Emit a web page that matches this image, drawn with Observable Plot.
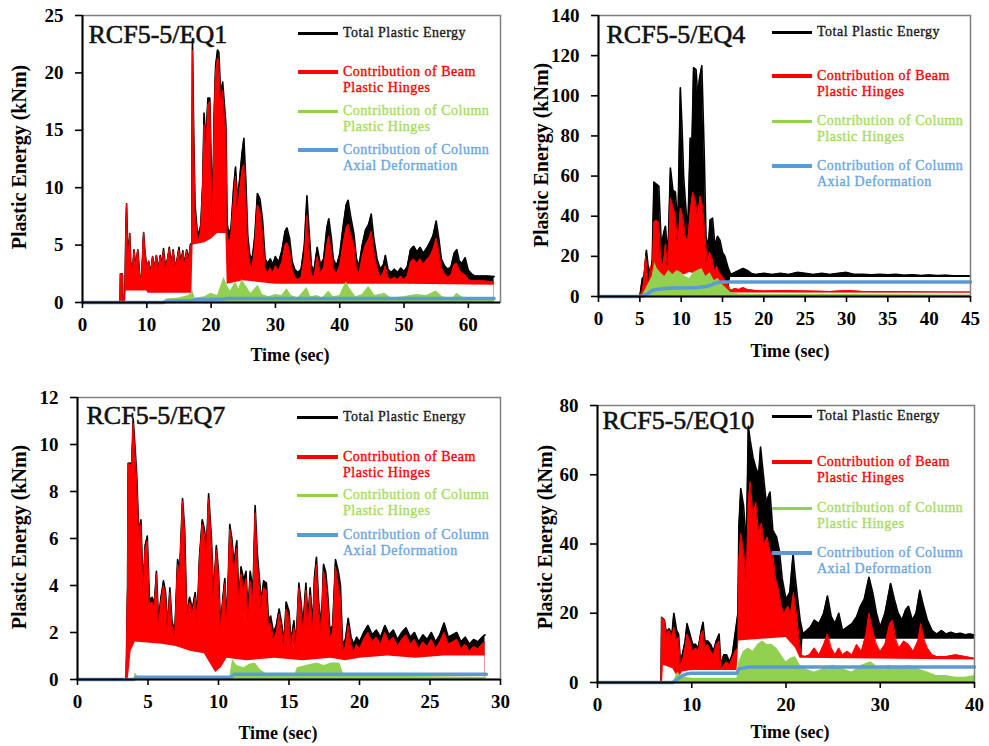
<!DOCTYPE html>
<html><head><meta charset="utf-8">
<script src="https://cdn.jsdelivr.net/npm/d3@7"></script>
<script src="https://cdn.jsdelivr.net/npm/@observablehq/plot@0.6"></script>
<style>
body{margin:0;background:#fff;}
#wrap{position:relative;width:989px;height:746px;overflow:hidden;font-family:"Liberation Serif","Times New Roman",serif;background:#fff;}
.panel{position:absolute;}
.lbl{position:absolute;font-weight:bold;white-space:nowrap;color:#000;}
.leg-line{position:absolute;}
.leg-text{position:absolute;font-size:14px;line-height:16px;letter-spacing:0.5px;white-space:nowrap;-webkit-text-stroke:0.35px currentColor;}
</style></head><body><div id="wrap"></div>
<script>
// ---------- shared text ----------
const legendLabels = [["Total Plastic Energy"], ["Contribution of Beam", "Plastic Hinges"], ["Contribution of Column", "Plastic Hinges"], ["Contribution of Column", "Axial Deformation"]];
const yLabel = "Plastic Energy (kNm)";
const xLabel = "Time (sec)";
const titles = ["RCF5-5/EQ1", "RCF5-5/EQ4", "RCF5-5/EQ7", "RCF5-5/EQ10"];

// ---------- EQ1 ----------
const eq1XTicks = [0, 10, 20, 30, 40, 50, 60];
const eq1YTicks = [0, 5, 10, 15, 20, 25];
const eq1Total = [[0,0],[5.85,0],[5.9,2.5],[6.2,2.5],[6.3,0],[6.6,0],[6.7,5],[6.85,8.6],[7.0,5.5],[7.2,4.2],[7.35,6.0],[7.5,3.5],[7.8,2.8],[8.0,4.6],[8.3,3.2],[8.6,4.6],[8.9,2.4],[9.2,2.2],[9.5,6.1],[9.7,4.5],[10.0,3.0],[10.3,3.6],[10.6,2.5],[10.9,4.0],[11.2,3.0],[11.5,4.1],[11.8,2.8],[12.1,4.1],[12.4,3.3],[12.6,4.7],[12.9,3.1],[13.2,3.7],[13.5,4.8],[13.8,3.3],[14.1,4.6],[14.4,3.1],[14.7,3.7],[15.0,4.8],[15.3,3.4],[15.6,4.5],[15.9,3.3],[16.2,4.6],[16.5,3.7],[16.8,5.1],[17.0,4.1],[17.1,23.0],[17.3,14.5],[17.5,8.5],[17.8,6.5],[18.1,5.8],[18.4,6.8],[18.7,10.5],[18.9,16.5],[19.2,14],[19.5,17.8],[19.8,17.8],[20.0,12.5],[20.2,7.5],[20.5,17],[20.7,20.6],[21.0,22],[21.2,21.8],[21.5,18],[21.8,19.2],[22.1,17],[22.3,15.5],[22.5,6.8],[22.8,6],[23.1,6.5],[23.5,10],[23.8,11.8],[24.1,9],[24.4,10.5],[24.8,13],[25.1,14.3],[25.4,10.6],[25.7,5.8],[26.0,4.2],[26.4,3.8],[26.8,5.8],[27.2,9.5],[27.6,9],[28.0,7.2],[28.4,3.8],[28.8,3.4],[29.2,3.8],[29.6,3.3],[30.0,4],[30.5,3.5],[31.0,4.5],[31.5,6.2],[31.8,6.5],[32.2,5.6],[32.6,3.6],[33.0,2.9],[33.5,2.6],[34.0,2.9],[34.5,5],[34.9,9.3],[35.2,6.5],[35.6,3.2],[36.0,2.8],[36.5,4.8],[37.0,3.3],[37.5,3.8],[38.0,6.5],[38.3,7.3],[38.7,5.6],[39.0,3.8],[39.5,3.2],[40.0,4.2],[40.5,6.5],[41.0,8.5],[41.3,8.9],[41.7,7.5],[42.2,6],[42.6,3.8],[43.0,3.2],[43.5,5],[44.0,6.3],[44.5,6.8],[44.9,7.7],[45.3,5.6],[45.8,3.8],[46.3,2.9],[46.8,3.3],[47.1,4.1],[47.5,2.9],[48.0,2.6],[48.5,2.9],[49.0,2.6],[49.5,3],[50.0,2.7],[50.5,3.1],[51.0,4.6],[51.5,4.9],[52.0,4.4],[52.5,4.8],[53.0,4.3],[53.5,4.7],[54.0,5.2],[54.5,5.8],[55.0,7.1],[55.4,5.6],[55.8,3.8],[56.3,3.2],[56.8,2.9],[57.3,3.1],[57.8,4.3],[58.2,4.6],[58.6,3.6],[59.0,3.4],[59.5,3.9],[60.0,2.8],[60.5,2.5],[61,2.3],[62,2.3],[63,2.3],[64,2.25]];
const eq1Beam = [[0,0],[5.85,0],[5.9,2.5],[6.2,2.5],[6.3,0],[6.6,0],[6.7,5],[6.85,8.6],[7.0,5.5],[7.2,4.2],[7.35,6.0],[7.5,3.5],[7.8,2.8],[8.0,4.5],[8.3,3.2],[8.6,4.6],[8.9,2.4],[9.2,2.2],[9.5,6.1],[9.7,4.5],[10.0,3.0],[10.3,3.6],[10.6,2.5],[10.9,4.0],[11.2,3.0],[11.5,4.1],[11.8,2.8],[12.1,4.0],[12.4,3.2],[12.6,4.5],[12.9,3.0],[13.2,3.6],[13.5,4.7],[13.8,3.2],[14.1,4.5],[14.4,3.0],[14.7,3.6],[15.0,4.6],[15.3,3.3],[15.6,4.4],[15.9,3.2],[16.2,4.5],[16.5,3.6],[16.8,5.0],[17.0,4.0],[17.1,22.0],[17.3,14],[17.5,8],[17.8,6],[18.1,5.4],[18.4,6.3],[18.7,10],[18.9,15.5],[19.2,13],[19.5,17.2],[19.8,17.5],[20.0,12],[20.2,7],[20.5,16],[20.7,20],[21.0,21.3],[21.2,21],[21.5,17],[21.8,18.5],[22.1,16],[22.3,15],[22.5,6],[22.8,5],[23.1,6],[23.5,9],[23.8,11],[24.1,8],[24.4,9.5],[24.8,11.5],[25.1,12],[25.4,9],[25.7,5],[26.0,3.5],[26.4,3],[26.8,5],[27.2,8.5],[27.6,8],[28.0,6],[28.4,3],[28.8,2.5],[29.2,3],[29.6,2.6],[30.0,3.2],[30.5,2.8],[31.0,3.5],[31.5,5],[31.8,5.2],[32.2,4.5],[32.6,3],[33.0,2.2],[33.5,2],[34.0,2.2],[34.5,4],[34.9,7.6],[35.2,5],[35.6,2.5],[36.0,2.2],[36.5,4],[37.0,2.6],[37.5,3],[38.0,5],[38.3,5.8],[38.7,4.5],[39.0,3],[39.5,2.5],[40.0,3.2],[40.5,5],[41.0,6.5],[41.3,6.8],[41.7,6],[42.2,5],[42.6,3],[43.0,2.5],[43.5,4],[44.0,5],[44.5,5.5],[44.9,6.2],[45.3,4.5],[45.8,3],[46.3,2.2],[46.8,2.6],[47.1,3.2],[47.5,2.2],[48.0,2],[48.5,2.2],[49.0,2],[49.5,2.3],[50.0,2],[50.5,2.3],[51.0,3.5],[51.5,3.8],[52.0,3.4],[52.5,3.8],[53.0,3.3],[53.5,3.7],[54.0,4],[54.5,4.6],[55.0,5.6],[55.4,4.5],[55.8,3],[56.3,2.5],[56.8,2.2],[57.3,2.4],[57.8,3.3],[58.2,3.4],[58.6,2.8],[59.0,2.6],[59.5,2.4],[60.0,2],[60.5,1.9],[61,1.9],[62,1.9],[63,1.85],[64,1.8]];
const eq1BeamBase = [[0,0],[6.7,0],[6.8,1.0],[10,1.0],[10.2,0.8],[17.0,0.8],[17.2,5.0],[19,5.2],[20,5.5],[21,6.0],[22.3,6.0],[22.5,1.6],[25,1.9],[30,1.6],[40,1.6],[50,1.6],[64,1.5]];
const eq1Column = [[0,0],[12.8,0],[13,0.3],[15,0.4],[16.5,0.6],[17.2,1.0],[17.5,0.4],[19,0.5],[20,0.8],[21,0.6],[22,2.2],[22.5,1.5],[23,1.0],[23.8,1.8],[24.3,1.2],[24.8,2.0],[25.5,1.4],[26.2,0.8],[27.3,1.5],[28,0.7],[29,0.5],[30,0.7],[31,0.6],[31.8,1.2],[32.5,0.6],[33.5,0.4],[34.9,1.3],[35.5,0.5],[36.5,0.6],[37.3,0.4],[38.3,1.0],[39,0.5],[40,0.6],[41,1.8],[41.6,1.2],[42.5,0.5],[43.5,0.7],[44.5,1.4],[45.5,0.6],[47,0.8],[48,0.4],[50,0.5],[51,0.6],[52,0.7],[53.5,0.6],[55,1.0],[56,0.5],[57.5,0.3],[58.2,0.8],[59,0.5],[60,0.3],[62,0.3],[64,0.3]];
const eq1Axial = [[0,0],[12.5,0],[13,0.1],[17,0.15],[17.5,0.25],[22,0.3],[22.5,0.35],[64,0.35]];

// ---------- EQ4 ----------
const eq4XTicks = [0, 5, 10, 15, 20, 25, 30, 35, 40, 45];
const eq4YTicks = [0, 20, 40, 60, 80, 100, 120, 140];
const eq4Total = [[0,0],[5.0,0],[5.3,9],[5.5,10],[5.8,23],[6.0,15],[6.3,12],[6.5,18],[6.7,57],[7.0,56],[7.3,55],[7.6,25],[7.9,32],[8.1,35],[8.4,20],[8.7,64],[9.0,53],[9.3,52],[9.6,35],[9.9,104],[10.1,85],[10.3,60],[10.5,48],[10.8,32],[11.1,79],[11.3,75],[11.5,114],[11.8,113],[12.0,100],[12.2,108],[12.5,115],[12.8,70],[13.0,30],[13.3,25],[13.5,38],[13.8,39],[14.1,25],[14.4,30],[14.7,28],[15.0,22],[15.3,20],[15.7,14],[16.0,11],[16.5,12],[17.0,13],[17.5,14],[18,13],[18.5,11.5],[19,11],[20,11.5],[21,11],[22,11.5],[23,11],[24,12],[25,11.5],[26,11],[27,11.5],[28,11],[29,11.5],[30,12],[31,11],[32,11],[33,10.8],[34,11],[35,10.8],[36,11],[37,10.6],[38,10.8],[39,10.5],[40,10.7],[41,10.4],[42,10.6],[43,10.3],[44,10.3],[45,10.2]];
const eq4TotalBase = [[0,0],[15.6,0],[16.0,9.5],[45,9.5]];
const eq4Beam = [[0,0],[5.0,0],[5.3,3],[5.5,8],[5.7,20],[5.9,12],[6.1,5],[6.3,15],[6.5,10],[6.7,37],[7.0,38],[7.3,37],[7.5,20],[7.8,15],[8.1,26],[8.4,12],[8.7,49],[9.0,45],[9.3,40],[9.6,25],[9.9,44],[10.2,40],[10.5,30],[10.8,28],[11.1,42],[11.4,52],[11.7,48],[12.0,40],[12.3,50],[12.6,45],[12.9,30],[13.2,15],[13.4,22],[13.7,20],[14.0,13],[14.3,15],[14.6,12],[15.0,10],[15.5,7],[16,3],[16.5,4],[17,3.5],[17.5,4.5],[18,3.5],[19,3],[20,2.8],[22,3],[25,2.8],[28,2.5],[30,3],[32,2.5],[35,2.5],[40,2.3],[45,2.2]];
const eq4BeamBase = [[0,0],[6.5,0],[7,8],[9,10],[10.5,11],[11,12],[12,11],[13,8],[14,6],[15,3],[16,1.8],[45,1.6]];
const eq4Column = [[0,0],[5.2,0],[5.5,2],[6,6],[6.5,10],[6.8,17],[7.1,14],[7.5,12],[8,10],[8.5,13],[9,11],[9.5,13],[10,12],[10.5,10],[11,9],[11.5,12],[12,13],[12.5,14],[13,10],[13.5,12],[14,8],[14.5,9],[15,6],[15.5,4],[16,2],[17,1.2],[20,1],[30,1],[45,0.8]];
const eq4Axial = [[0,0],[5.0,0],[5.5,0.5],[6,1.5],[6.5,3],[7,3.5],[8,4],[9,4.2],[10,4.2],[11,4.3],[12,4.5],[13,5],[13.5,5.5],[14,6.5],[14.5,7],[15,7.2],[45,7.2]];

// ---------- EQ7 ----------
const eq7XTicks = [0, 5, 10, 15, 20, 25, 30];
const eq7YTicks = [0, 2, 4, 6, 8, 10, 12];
const eq7Total = [[0,0],[3.45,0],[3.55,4],[3.6,9.2],[3.85,9.2],[3.95,11.1],[4.1,9.7],[4.2,8.7],[4.35,6.2],[4.5,6.8],[4.65,3.8],[4.8,5.7],[4.95,6.1],[5.1,3.4],[5.3,3.5],[5.45,3.2],[5.6,4.6],[5.75,2.4],[5.9,3.4],[6.1,4.2],[6.25,3.7],[6.4,2.2],[6.55,3.9],[6.7,2.5],[6.9,2.0],[7.1,5.1],[7.25,4.7],[7.45,7.7],[7.6,6.4],[7.75,2.7],[7.95,3.5],[8.15,3.0],[8.35,3.7],[8.5,2.7],[8.65,5.2],[8.85,6.8],[9.0,6.4],[9.15,5.6],[9.3,7.9],[9.5,6.0],[9.65,3.6],[9.85,5.7],[10.0,4.6],[10.15,2.2],[10.3,3.4],[10.45,4.3],[10.6,2.4],[10.8,6.6],[10.95,6.0],[11.1,4.9],[11.3,5.9],[11.45,3.3],[11.6,4.8],[11.8,4.2],[11.95,4.6],[12.1,2.8],[12.25,4.6],[12.45,3.8],[12.6,7.4],[12.75,5.4],[12.9,4.3],[13.05,3.3],[13.2,4.2],[13.4,4.1],[13.55,2.5],[13.7,2.7],[13.9,2.0],[14.1,2.3],[14.3,3.0],[14.5,2.3],[14.65,1.6],[14.8,3.3],[15.0,2.9],[15.15,1.6],[15.35,2.5],[15.5,1.5],[15.7,4.1],[15.85,3.3],[16.0,2.3],[16.2,4.1],[16.35,2.5],[16.5,3.9],[16.7,2.3],[16.8,4.3],[16.95,5.2],[17.1,3.3],[17.3,2.3],[17.45,4.9],[17.6,4.6],[17.75,3.6],[17.9,2.1],[18.1,2.3],[18.3,5.1],[18.5,4.6],[18.65,4.0],[18.8,1.5],[19.0,1.7],[19.2,2.6],[19.4,1.8],[19.6,1.5],[19.8,1.8],[20.0,1.6],[20.3,2.0],[20.6,2.3],[20.9,1.9],[21.2,2.1],[21.5,1.8],[21.8,2.3],[22.1,1.9],[22.4,2.1],[22.7,1.7],[23.0,2.0],[23.3,2.2],[23.6,1.8],[23.9,2.0],[24.2,1.6],[24.5,1.9],[24.8,1.7],[25.1,2.0],[25.4,1.6],[25.7,1.9],[26.0,2.4],[26.3,1.8],[26.6,1.9],[26.9,2.0],[27.2,1.6],[27.5,1.8],[27.8,1.5],[28.1,1.7],[28.4,1.6],[28.7,1.8],[28.9,1.9]];
const eq7Beam = [[0,0],[3.45,0],[3.55,4],[3.6,9.2],[3.85,9.1],[3.95,10.9],[4.1,9.5],[4.2,8.5],[4.35,6],[4.5,6.6],[4.65,3.6],[4.8,5.5],[4.95,5.9],[5.1,3.2],[5.3,3.3],[5.45,3.0],[5.6,4.5],[5.75,2.2],[5.9,3.2],[6.1,4.0],[6.25,3.5],[6.4,2.0],[6.55,3.7],[6.7,2.3],[6.9,1.8],[7.1,4.9],[7.25,4.5],[7.45,7.6],[7.6,6.2],[7.75,2.5],[7.95,3.3],[8.15,2.8],[8.35,3.5],[8.5,2.5],[8.65,5.0],[8.85,6.6],[9.0,6.2],[9.15,5.4],[9.3,7.7],[9.5,5.8],[9.65,3.4],[9.85,5.5],[10.0,4.4],[10.15,2.0],[10.3,3.2],[10.45,4.1],[10.6,2.2],[10.8,6.4],[10.95,5.8],[11.1,4.6],[11.3,5.6],[11.45,3.0],[11.6,4.5],[11.8,3.8],[11.95,4.3],[12.1,2.4],[12.25,4.2],[12.45,3.4],[12.6,7.1],[12.75,5.0],[12.9,4.0],[13.05,3.0],[13.2,3.9],[13.4,3.8],[13.55,2.2],[13.7,2.4],[13.9,1.7],[14.1,2.0],[14.3,2.8],[14.5,2.0],[14.65,1.3],[14.8,3.0],[15.0,2.6],[15.15,1.3],[15.35,2.2],[15.5,1.2],[15.7,3.9],[15.85,3.0],[16.0,2.0],[16.2,3.8],[16.35,2.2],[16.5,3.6],[16.7,2.0],[16.8,4.0],[16.95,4.9],[17.1,3.0],[17.3,2.0],[17.45,4.6],[17.6,4.2],[17.75,3.3],[17.9,1.8],[18.1,2.0],[18.3,4.8],[18.5,4.0],[18.65,3.5],[18.8,1.2],[19.0,1.4],[19.2,2.3],[19.4,1.5],[19.6,1.2],[19.8,1.5],[20.0,1.3],[20.3,1.7],[20.6,2.0],[20.9,1.6],[21.2,1.8],[21.5,1.5],[21.8,2.0],[22.1,1.6],[22.4,1.8],[22.7,1.4],[23.0,1.7],[23.3,1.9],[23.6,1.5],[23.9,1.7],[24.2,1.3],[24.5,1.6],[24.8,1.4],[25.1,1.7],[25.4,1.3],[25.7,1.6],[26.0,2.0],[26.3,1.5],[26.6,1.6],[26.9,1.7],[27.2,1.3],[27.5,1.5],[27.8,1.2],[28.1,1.4],[28.4,1.3],[28.7,1.5],[28.9,1.6]];
const eq7BeamBase = [[0,0],[3.6,0],[3.8,1.2],[4.1,1.6],[6,1.5],[7,1.4],[8,1.2],[9,1.1],[9.5,0.6],[9.8,0.3],[10.2,0.5],[10.6,0.9],[12,0.8],[14,0.9],[16,0.8],[18,0.9],[19,0.8],[20,0.9],[22,1.0],[24,0.9],[26,1.0],[28.9,1.0]];
const eq7Column = [[0,0],[4.0,0],[4.1,0.3],[4.3,0.1],[10.8,0.1],[11.0,0.85],[11.3,0.6],[11.8,0.5],[12.2,0.65],[12.6,0.7],[13.0,0.4],[13.5,0.2],[15.4,0.2],[15.6,0.5],[16.2,0.6],[17.0,0.7],[17.5,0.6],[18.0,0.7],[18.6,0.7],[18.9,0.2],[20,0.15],[29,0.1]];
const eq7Axial = [[0,0],[4.0,0],[4.2,0.1],[10.9,0.1],[11.1,0.22],[29,0.22]];

// ---------- EQ10 ----------
const eq10XTicks = [0, 10, 20, 30, 40];
const eq10YTicks = [0, 20, 40, 60, 80];
const eq10Total = [[0,0],[6.75,0],[6.8,18.8],[7.1,18],[7.3,14.5],[7.6,15.5],[7.9,14],[8.1,20],[8.4,15],[8.6,14],[8.8,6],[9.0,8],[9.3,12],[9.5,17],[9.8,14],[10.1,11],[10.4,11],[10.7,10],[11.0,15],[11.2,17.4],[11.4,12],[11.7,12],[12.0,11],[12.3,9],[12.6,12],[12.9,14],[13.1,5],[13.4,8],[13.7,8],[14.0,6],[14.3,8],[14.6,14],[14.9,20],[15.0,45],[15.2,56],[15.5,51],[15.8,40],[16.0,74],[16.2,70],[16.5,65],[16.8,62],[17.1,60],[17.3,68],[17.6,60],[17.9,52],[18.3,55],[18.6,44],[19.0,42],[19.3,38],[19.6,30],[20.0,24],[20.4,26],[20.75,37],[21.0,30],[21.2,25],[21.5,18],[21.8,14],[22.2,15],[22.6,16],[23,18],[23.5,17],[24,20],[24.4,25],[24.8,19],[25.2,17],[25.6,20],[26,15],[26.5,16],[27,17],[27.5,19],[27.9,22],[28.3,24],[28.8,30.4],[29.2,26],[29.6,20],[30,16],[30.5,20],[31.1,28.6],[31.5,24],[31.9,20],[32.3,18],[32.7,21],[33,22],[33.4,18],[33.8,20],[34.2,26.6],[34.6,22],[35,18],[35.5,15],[36,14],[36.5,15],[37,14],[37.5,14.5],[38,14],[38.5,14.2],[39,13.8],[39.5,14],[40,13.7]];
const eq10TotalBase = [[0,0],[21.5,0],[21.8,12.5],[40,12.5]];
const eq10Beam = [[0,0],[6.75,0],[6.8,18.8],[7.1,18],[7.3,14],[7.6,15],[7.9,13],[8.1,16],[8.4,12],[8.6,13],[8.8,5],[9.0,6],[9.3,10],[9.5,14],[9.8,12],[10.1,9],[10.4,10],[10.7,9],[11.0,14],[11.2,15],[11.4,10],[11.7,11],[12.0,9],[12.3,8],[12.6,11],[12.9,12],[13.1,4],[13.4,5],[13.7,6],[14.0,5],[14.3,7],[14.6,9],[14.9,10],[15.0,35],[15.2,43],[15.5,38],[15.8,30],[16.0,52],[16.2,58],[16.5,48],[16.8,52],[17.1,43],[17.4,46],[17.7,40],[18.0,42],[18.3,38],[18.6,37],[18.9,30],[19.2,27],[19.5,22],[19.8,20],[20.2,22],[20.5,20],[20.8,26],[21.0,22],[21.3,15],[21.6,8],[22,7.5],[22.5,8],[23,10],[23.5,8],[24,11],[24.4,14],[24.8,10],[25.2,8],[25.6,10],[26,8],[26.5,9],[27,8],[27.5,11],[28,9],[28.5,14],[28.8,20],[29.2,15],[29.6,11],[30,9],[30.5,11],[31,17],[31.3,18],[31.7,12],[32,10],[32.5,12],[33,11],[33.5,9],[34,12],[34.3,17],[34.7,12],[35,10],[35.5,8],[36,7.5],[37,7.5],[38,8],[39,7.5],[40,7]];
const eq10BeamBase = [[0,0],[6.9,0],[7.0,5],[8.0,4],[8.6,1],[9.0,3],[10,3.5],[14.8,3.5],[15.0,12],[20,13],[21,10],[21.5,7],[40,6.5]];
const eq10Column = [[0,0],[7.9,0],[8.2,1],[8.5,3],[8.8,2],[9.2,1.5],[10,1.2],[14.8,1.2],[15.0,6],[15.5,9],[16,10],[16.5,9],[17,11],[17.5,12],[18,11],[18.5,11],[19,10],[19.5,8],[20,6],[20.5,7],[21,7.5],[21.5,5],[22,4],[23,3],[24,4],[25,5],[26,4],[27,3],[28,5],[29,6],[30,4],[31,5],[32,4],[33,5],[34,4],[35,3],[36,2],[37,2],[38,1.5],[39,1.5],[40,2]];
const eq10Axial = [[0,0],[8.0,0],[8.5,1],[9,2],[9.5,2.5],[10,2.7],[14.8,2.7],[15.0,4],[15.5,4.2],[16,4.5],[40,4.5]];

// ---------- colours ----------
const BLACK = "#000000", RED = "#ff0000", GREEN = "#92d050", BLUE = "#5b9bd5";
const seriesColors = [BLACK, RED, GREEN, BLUE];
const legendTextColors = ["#1a1a1a", "#ff0000", "#a6dc5e", "#6aa6e0"];
const legendLineWidths = [3, 4, 3, 4];

// ---------- panel layout (page pixels) ----------
const panels = [
  {title: titles[0], left: 0, top: 0, width: 505, height: 340, mt: 15, mr: 5, mb: 38, ml: 82,
   xDomain: [0, 65], yDomain: [0, 25], xTicks: eq1XTicks, yTicks: eq1YTicks,
   total: eq1Total, totalBase: null, beam: eq1Beam, beamBase: eq1BeamBase, column: eq1Column, axial: eq1Axial,
   titleDx: 6, titleDy: 18.7, yLab: [19, 157], xLab: [290, 355],
   legLine: [298, 338], legText: 343, legRows: [33, 72, 111, 150]},
  {title: titles[1], left: 500, top: 0, width: 489, height: 340, mt: 15, mr: 19, mb: 44, ml: 98,
   xDomain: [0, 45], yDomain: [0, 140], xTicks: eq4XTicks, yTicks: eq4YTicks,
   total: eq4Total, totalBase: eq4TotalBase, beam: eq4Beam, beamBase: eq4BeamBase, column: eq4Column, axial: eq4Axial,
   titleDx: 8, titleDy: 19.4, yLab: [541, 155], xLab: [790, 351],
   legLine: [772, 812], legText: 817, legRows: [32, 76, 121, 166]},
  {title: titles[2], left: 0, top: 370, width: 505, height: 376, mt: 27, mr: 5, mb: 67, ml: 77,
   xDomain: [0, 30], yDomain: [0, 12], xTicks: eq7XTicks, yTicks: eq7YTicks,
   total: eq7Total, totalBase: null, beam: eq7Beam, beamBase: eq7BeamBase, column: eq7Column, axial: eq7Axial,
   titleDx: 9, titleDy: 17.7, yLab: [19, 537], xLab: [278, 733],
   legLine: [297, 338], legText: 343, legRows: [417, 457, 495, 535]},
  {title: titles[3], left: 500, top: 370, width: 489, height: 376, mt: 35, mr: 15, mb: 64, ml: 97,
   xDomain: [0, 40], yDomain: [0, 80], xTicks: eq10XTicks, yTicks: eq10YTicks,
   total: eq10Total, totalBase: eq10TotalBase, beam: eq10Beam, beamBase: eq10BeamBase, column: eq10Column, axial: eq10Axial,
   titleDx: 5, titleDy: 14.7, yLab: [545, 537], xLab: [790, 732],
   legLine: [772, 812], legText: 817, legRows: [416, 462, 508, 553]}
];

const wrap = document.getElementById("wrap");
const xy = {x: d => d[0], y: d => d[1]};

for (const p of panels) {
  const marks = [
    Plot.text([p.title], {text: d => d, frameAnchor: "top-left", dx: p.titleDx, dy: p.titleDy, textAnchor: "start", lineAnchor: "middle", fontSize: 26, fontWeight: "normal", fill: "#111", stroke: "#111", strokeWidth: 0.6}),
    Plot.areaY(p.total, {...xy, fill: BLACK}),
    Plot.lineY(p.total, {...xy, stroke: BLACK, strokeWidth: 1.6, strokeLinejoin: "round"})
  ];
  if (p.totalBase) marks.push(Plot.areaY(p.totalBase, {...xy, fill: "#ffffff"}));
  marks.push(
    Plot.areaY(p.beam, {...xy, fill: RED}),
    Plot.lineY(p.beam, {...xy, stroke: RED, strokeWidth: 1, strokeLinejoin: "round"}),
    Plot.areaY(p.beamBase, {...xy, fill: "#ffffff"}),
    Plot.areaY(p.column, {...xy, fill: GREEN}),
    Plot.lineY(p.axial, {...xy, stroke: BLUE, strokeWidth: 3.5}),
    Plot.frame({stroke: "#7f7f7f", strokeWidth: 1.5}),
    Plot.ruleX([0], {stroke: "#000", strokeWidth: 2}),
    Plot.ruleY([0], {stroke: "#000", strokeWidth: 2}),
    Plot.axisX({ticks: p.xTicks, tickSize: 6, tickPadding: 9, label: null, stroke: "#000", strokeWidth: 1.6, tickFormat: d => String(d)}),
    Plot.axisY({ticks: p.yTicks, tickSize: 7, tickPadding: 12, label: null, stroke: "#000", strokeWidth: 1.6, tickFormat: d => String(d)})
  );
  const chart = Plot.plot({
    width: p.width, height: p.height,
    marginTop: p.mt, marginRight: p.mr, marginBottom: p.mb, marginLeft: p.ml,
    x: {domain: p.xDomain},
    y: {domain: p.yDomain},
    style: {fontFamily: "'Liberation Serif', 'Times New Roman', serif", fontSize: "19px", fontWeight: "bold", background: "transparent", overflow: "visible", color: "#000"},
    marks
  });
  chart.classList.add("panel");
  chart.style.left = p.left + "px";
  chart.style.top = p.top + "px";
  wrap.appendChild(chart);

  // axis titles
  const yl = document.createElement("div");
  yl.className = "lbl";
  yl.textContent = yLabel;
  yl.style.fontSize = "20px";
  yl.style.left = p.yLab[0] + "px";
  yl.style.top = p.yLab[1] + "px";
  yl.style.transform = "translate(-50%,-50%) rotate(-90deg)";
  wrap.appendChild(yl);
  const xl = document.createElement("div");
  xl.className = "lbl";
  xl.textContent = xLabel;
  xl.style.fontSize = "18px";
  xl.style.left = p.xLab[0] + "px";
  xl.style.top = p.xLab[1] + "px";
  xl.style.transform = "translate(-50%,-50%)";
  wrap.appendChild(xl);

  // legend
  legendLabels.forEach((lines, i) => {
    const row = p.legRows[i];
    const ln = document.createElement("div");
    ln.className = "leg-line";
    ln.style.left = p.legLine[0] + "px";
    ln.style.width = (p.legLine[1] - p.legLine[0]) + "px";
    ln.style.height = legendLineWidths[i] + "px";
    ln.style.top = (row - legendLineWidths[i] / 2) + "px";
    ln.style.background = seriesColors[i];
    wrap.appendChild(ln);
    const tx = document.createElement("div");
    tx.className = "leg-text";
    tx.style.left = p.legText + "px";
    tx.style.top = (row - 8) + "px";
    tx.style.color = legendTextColors[i];
    tx.innerHTML = lines.join("<br>");
    wrap.appendChild(tx);
  });
}
</script></body></html>
